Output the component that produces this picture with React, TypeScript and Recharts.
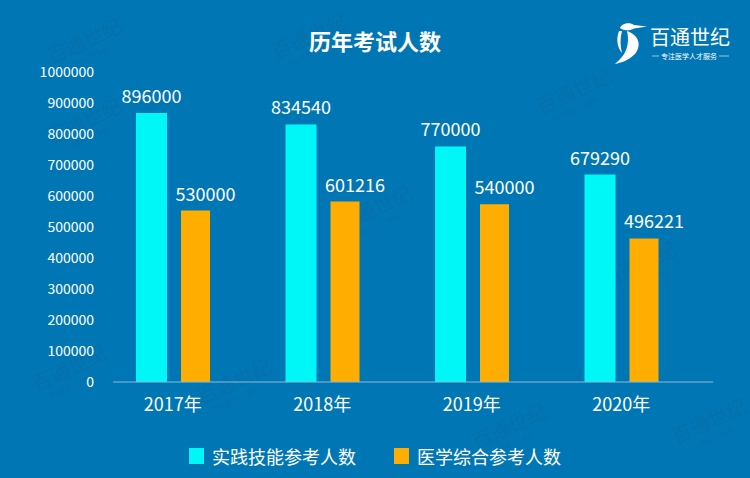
import { BarChart, Bar, XAxis, YAxis, LabelList, Legend, ReferenceLine } from 'recharts';

const FONT = '"Noto Sans CJK SC", "Noto Sans", sans-serif';
const BG = '#0077b4';
const CYAN = '#00f7f7';
const ORANGE = '#ffae00';

const years = ['2017年', '2018年', '2019年', '2020年'];
// bar heights as drawn in the picture
const skillValues = [868000, 831000, 760000, 669000];
const generalValues = [553000, 582000, 573000, 463000];
// numbers printed above the bars
const skillLabels = ['896000', '834540', '770000', '679290'];
const generalLabels = ['530000', '601216', '540000', '496221'];
const seriesNames = ['实践技能参考人数', '医学综合参考人数'];
const yTicks = [0, 100000, 200000, 300000, 400000, 500000, 600000, 700000, 800000, 900000, 1000000];

// faint tiled brand marks in the background
const watermarks = [
  { x: 75, y: 45 },
  { x: 75, y: 125 },
  { x: 300, y: 40 },
  { x: 565, y: 95 },
  { x: 365, y: 212 },
  { x: 630, y: 268 },
  { x: 60, y: 372 },
  { x: 225, y: 385 },
  { x: 500, y: 430 },
  { x: 700, y: 425 },
];

const data = years.map((year, i) => ({
  year,
  skill: skillValues[i],
  general: generalValues[i],
  skillLabel: skillLabels[i],
  generalLabel: generalLabels[i],
}));

const makeLabel = (dx: number) => (props: any) => {
  const { x, y, width, value } = props;
  return (
    <text
      x={Number(x) + Number(width) / 2 + dx}
      y={Number(y) - 10}
      textAnchor="middle"
      fill="#fff"
      fontSize={18}
      fontFamily={FONT}
    >
      {value}
    </text>
  );
};

function LegendContent() {
  const colors = [CYAN, ORANGE];
  return (
    <div style={{ display: 'flex', justifyContent: 'center', gap: 38, fontFamily: FONT }}>
      {seriesNames.map((name, i) => (
        <div key={name} style={{ display: 'flex', alignItems: 'center', gap: 8 }}>
          <span style={{ width: 15, height: 16, background: colors[i], display: 'inline-block' }} />
          <span style={{ color: '#fff', fontSize: 18, lineHeight: '26px' }}>{name}</span>
        </div>
      ))}
    </div>
  );
}

function Backdrop() {
  return (
    <svg width={750} height={478} style={{ position: 'absolute', left: 0, top: 0 }}>
      {watermarks.map((w, i) => (
        <g key={i} transform={`translate(${w.x},${w.y}) rotate(-25)`} fill="#0670ab">
          <text x={-30} y={8} fontSize={20} fontFamily={FONT}>
            百通世纪
          </text>
          <text x={-20} y={20} fontSize={6} fontFamily={FONT}>
            专注医学人才服务
          </text>
        </g>
      ))}
      <text x={375} y={50} textAnchor="middle" fill="#fff" fontSize={22} fontWeight={700} fontFamily={FONT}>
        历年考试人数
      </text>
      {/* logo */}
      <g fill="#fff">
        <path d="M620 28 C622 23 630 22 634 25 L647 26.5 L634 28.5 C630 31 624 31 620 28 Z" />
        <path d="M627 31 C637 34 643 44 635 54 C629 60 621 63 615 64 C622 58 631 49 627 31 Z" />
        <path d="M619 31 C616 39 617 47 622 53 C620 46 620 38 622 31 Z" />
      </g>
      <text x={650} y={45} fill="#fff" fontSize={20} fontFamily={FONT}>
        百通世纪
      </text>
      <line x1={652} y1={56} x2={659} y2={56} stroke="#fff" strokeWidth={0.6} />
      <line x1={719} y1={56} x2={729} y2={56} stroke="#fff" strokeWidth={0.6} />
      <text x={689} y={59} textAnchor="middle" fill="#fff" fontSize={7} fontFamily={FONT}>
        专注医学人才服务
      </text>
    </svg>
  );
}

export default function App() {
  return (
    <div style={{ position: 'relative', width: 750, height: 478, background: BG, overflow: 'hidden' }}>
      <style>{'body{margin:0}'}</style>
      <Backdrop />
      <div style={{ position: 'absolute', left: 0, top: 0 }}>
        <BarChart
          width={750}
          height={478}
          data={data}
          barGap={14}
          margin={{ top: 72, right: 37, bottom: 0, left: 0 }}
        >
          <XAxis
            dataKey="year"
            height={96}
            axisLine={false}
            tickLine={false}
            tickSize={0}
            tickMargin={16}
            padding={{ left: 0, right: 17 }}
            tick={{ fill: '#fff', fontSize: 18, fontFamily: FONT }}
          />
          <YAxis
            width={98}
            domain={[0, 1000000]}
            ticks={yTicks}
            interval={0}
            axisLine={false}
            tickLine={false}
            tickSize={0}
            tickMargin={4}
            tick={{ fill: '#fff', fontSize: 14, fontFamily: FONT }}
          />
          <ReferenceLine
            y={0}
            shape={(p: any) => (
              <line x1={Number(p.x1) + 15} y1={p.y1} x2={p.x2} y2={p.y2} stroke="#8fbad6" strokeWidth={1} />
            )}
          />
          <Bar dataKey="skill" name={seriesNames[0]} fill={CYAN} barSize={31} isAnimationActive={false}>
            <LabelList dataKey="skillLabel" content={makeLabel(0)} />
          </Bar>
          <Bar dataKey="general" name={seriesNames[1]} fill={ORANGE} barSize={29} isAnimationActive={false}>
            <LabelList dataKey="generalLabel" content={makeLabel(10)} />
          </Bar>
          <Legend
            layout="horizontal"
            verticalAlign="middle"
            align="center"
            wrapperStyle={{ top: 443, left: 0, width: 750 }}
            content={<LegendContent />}
          />
        </BarChart>
      </div>
    </div>
  );
}
